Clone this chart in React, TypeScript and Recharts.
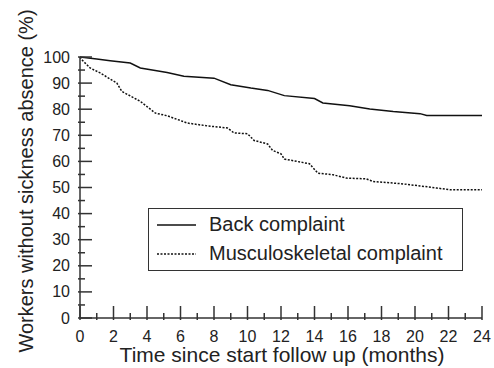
import React from "react";
import { LineChart, Line, XAxis, YAxis, Legend, Label } from "recharts";

// Kaplan-Meier style survival curves
const backMonths = [0, 1.0, 1.8, 3.0, 3.6, 4.4, 5.2, 6.2, 8.0, 9.0, 10.2, 11.2, 12.2, 14.0, 14.5, 16.1, 17.3, 18.7, 20.3, 20.7, 24];
const backPct = [100, 99.2, 98.6, 97.7, 95.8, 94.9, 94.1, 92.6, 91.9, 89.4, 88.1, 87.2, 85.2, 84.1, 82.4, 81.3, 80.1, 79.1, 78.3, 77.6, 77.6];

const mskMonths = [0, 0.1, 0.6, 1.2, 2.2, 2.5, 3.6, 4.5, 5.2, 6.4, 7.6, 8.8, 9.2, 10.0, 10.4, 11.2, 11.5, 12.0, 12.2, 13.7, 14.2, 15.1, 15.9, 17.1, 17.5, 19.1, 20.3, 21.3, 22.1, 24];
const mskPct = [100, 99, 95.8, 93.9, 90.0, 86.8, 83.0, 78.5, 77.5, 74.7, 73.6, 72.8, 70.9, 70.6, 68.0, 66.7, 64.2, 62.9, 60.9, 59.1, 55.5, 54.9, 53.6, 53.3, 52.3, 51.5, 50.6, 49.8, 49.1, 49.1];

const seriesNames = ["Back complaint", "Musculoskeletal complaint"];
const xTicks = Array.from({ length: 25 }, (_, i) => i);
const yTicks = Array.from({ length: 21 }, (_, i) => i * 5);

const backData = backMonths.map((m, i) => ({ month: m, pct: backPct[i] }));
const mskData = mskMonths.map((m, i) => ({ month: m, pct: mskPct[i] }));

const FONT = '"Liberation Sans", Arial, Helvetica, sans-serif';
const INK = "#222";

const XTick = (props: any) => {
  const { x, y, payload } = props;
  const major = payload.value % 2 === 0;
  return (
    <g>
      <line x1={x} x2={x} y1={y} y2={y - (major ? 14 : 7)} stroke="#333" strokeWidth={1.5} />
      {major && (
        <text x={x} y={y + 16} textAnchor="middle" dominantBaseline="central" fontSize={16} fill={INK} fontFamily={FONT}>
          {payload.value}
        </text>
      )}
    </g>
  );
};

const YTick = (props: any) => {
  const { x, y, payload } = props;
  const major = payload.value % 10 === 0;
  return (
    <g>
      <line x1={x} x2={x + (major ? 14 : 7)} y1={y} y2={y} stroke="#333" strokeWidth={1.5} />
      {major && (
        <text x={x - 8} y={y} textAnchor="end" dominantBaseline="central" fontSize={16} fill={INK} fontFamily={FONT}>
          {payload.value}
        </text>
      )}
    </g>
  );
};

const LegendBox = () => (
  <div
    style={{
      width: 315,
      height: 63,
      border: "1.5px solid #333",
      boxSizing: "border-box",
      fontFamily: FONT,
      fontSize: 20,
      color: INK,
      background: "#fff",
    }}
  >
    {seriesNames.map((name, i) => (
      <div key={name} style={{ display: "flex", alignItems: "center", height: 29, marginTop: i === 0 ? 1 : 0 }}>
        <svg width={60} height={10} style={{ flex: "none" }}>
          <line
            x1={8}
            x2={47}
            y1={5}
            y2={5}
            stroke="#111"
            strokeWidth={1.5}
            strokeDasharray={i === 0 ? undefined : "2 1.5"}
          />
        </svg>
        <span style={{ whiteSpace: "nowrap" }}>{name}</span>
      </div>
    ))}
  </div>
);

export default function App() {
  return (
    <div style={{ position: "absolute", left: 0, top: 0, background: "#fff" }}>
      <LineChart width={494} height={368} margin={{ top: 57, right: 12, bottom: 0, left: 0 }}>
        <XAxis
          type="number"
          dataKey="month"
          domain={[0, 24]}
          ticks={xTicks}
          interval={0}
          height={50}
          tickSize={0}
          tickLine={false}
          axisLine={{ stroke: "#333", strokeWidth: 1.5 }}
          tick={(p: any) => <XTick {...p} />}
        >
          <Label
            content={() => (
              <text x={282} y={362} textAnchor="middle" fontSize={21} fill={INK} fontFamily={FONT}>
                Time since start follow up (months)
              </text>
            )}
          />
        </XAxis>
        <YAxis
          type="number"
          dataKey="pct"
          domain={[0, 100]}
          ticks={yTicks}
          interval={0}
          width={80}
          tickSize={0}
          tickLine={false}
          axisLine={{ stroke: "#333", strokeWidth: 1.5 }}
          tick={(p: any) => <YTick {...p} />}
        >
          <Label
            content={() => (
              <text
                transform="rotate(-90)"
                x={-181}
                y={26}
                textAnchor="middle"
                dominantBaseline="central"
                fontSize={20}
                fill={INK}
                fontFamily={FONT}
              >
                Workers without sickness absence (%)
              </text>
            )}
          />
        </YAxis>
        <Line
          data={backData}
          dataKey="pct"
          name={seriesNames[0]}
          type="linear"
          stroke="#111"
          strokeWidth={1.5}
          dot={false}
          isAnimationActive={false}
        />
        <Line
          data={mskData}
          dataKey="pct"
          name={seriesNames[1]}
          type="linear"
          stroke="#111"
          strokeWidth={1.5}
          strokeDasharray="2 1.5"
          dot={false}
          isAnimationActive={false}
        />
        <Legend
          layout="vertical"
          align="center"
          verticalAlign="middle"
          content={() => <LegendBox />}
          wrapperStyle={{ position: "absolute", left: 148, top: 208, width: 315 }}
        />
      </LineChart>
    </div>
  );
}
